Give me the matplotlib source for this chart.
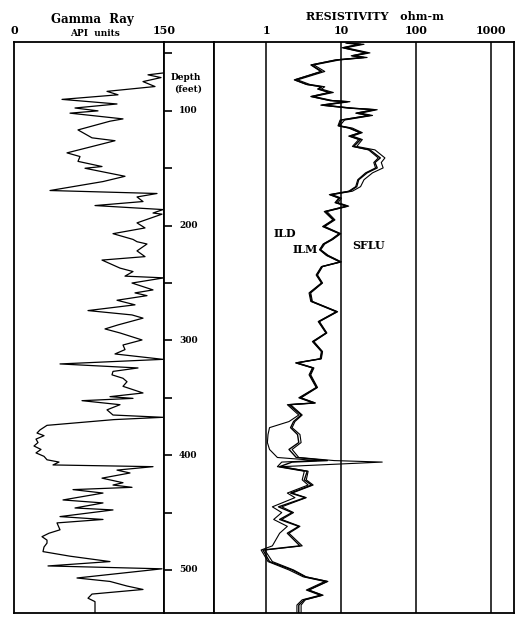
import matplotlib
matplotlib.use("Agg")
import matplotlib.pyplot as plt
import matplotlib.transforms as mtransforms

plt.rcParams["font.family"] = ["DejaVu Serif"]
plt.rcParams["font.weight"] = "bold"

# ---- gamma ray (API units) vs depth (feet) ----
gr_depth = [67, 68.6, 71, 74.5, 78.8, 83, 86, 90, 94, 97.5, 100, 102, 107, 109,
            116.6, 123.5, 126, 136.6, 139.8, 144, 148.5, 150, 157, 161.6, 169.4,
            172, 175, 179, 182.5, 186, 189, 190, 197.6, 202, 207, 212, 214, 216,
            222, 227, 230, 237, 240, 244, 245.5, 250, 256, 258.6, 261, 265, 269,
            274, 277.8, 280.6, 286.5, 290, 293.5, 299.6, 304, 308, 311.8, 316.5,
            320.5, 324, 327, 330, 333, 336, 340, 345.8, 349, 350.5, 352.5, 356,
            360.5, 365, 367, 369, 374, 378, 380.7, 383, 386, 389, 392, 395, 398,
            401, 404, 406, 408.5, 410, 413, 415.5, 420, 424, 426, 428, 430, 433,
            439, 441.6, 446, 447.7, 453.5, 456, 459, 465, 468, 471, 474, 476.6,
            480, 484, 488, 492.7, 496.5, 499, 507, 510, 514, 517, 521, 524.6,
            527.6, 537]
gr_api = [149, 134, 147, 129, 141, 93, 104, 48, 103, 61, 84, 56, 109, 96,
          64, 78, 101, 53, 66, 64, 88, 71, 111, 89, 36,
          143, 123, 129, 81, 149, 139, 148, 123, 131, 99, 119, 123, 133,
          123, 131, 88, 106, 119, 111, 150, 118, 139, 121, 133, 103, 121,
          74, 118, 129, 104, 91, 106, 128, 109, 111, 101, 149,
          46, 124, 99, 98, 109, 113, 109, 129, 96, 119, 68, 106,
          93, 99, 149, 100, 33, 26, 23, 30, 22, 24, 20, 27, 22,
          30, 33, 45, 39, 139, 103, 116, 88, 109, 99, 118, 59, 89,
          49, 89, 61, 99, 46, 89, 43, 46, 35, 28, 33, 33,
          30, 29, 56, 96, 34, 148, 63, 96, 113, 129, 78, 74,
          81, 81]

# ---- resistivity (ohm-m) vs depth (feet) ----
rs_depth = [41, 42, 45, 49.5, 52, 53.5, 55.6, 60, 65.7, 73, 77, 79, 81, 84, 87.5,
            91, 92, 95, 97.6, 99, 102, 104, 108, 113, 115, 119, 122, 125, 131,
            134, 141, 145, 149.7, 154, 160, 166, 170, 173, 176, 180, 183, 187.7,
            195, 200.8, 207, 212, 216, 221, 226, 231.6, 235.7, 243, 250, 258.6,
            266, 275, 283.6, 293.5, 301, 309.7, 316, 319.6, 324, 330, 341, 350,
            354.5, 356, 365, 370.7, 376, 382, 389, 395, 402, 404.7, 406, 410,
            414, 421.5, 426, 433, 437, 445, 450, 456, 462, 468, 479, 482.6,
            492.7, 500, 506, 510, 517.5, 522, 526, 530.6, 537]
ild = [11.5, 17, 10.2, 21, 13.5, 19, 8.3, 3.9, 5.3, 2.35, 3.4, 5.3, 4.8, 6.8, 3.9,
       6.9, 11.5, 5.3, 12.5, 27, 15.5, 23, 9.6, 9.0, 12.5, 17.5, 12.5, 17, 14,
       23, 31, 27, 28.5, 21, 16.5, 15.5, 12.5, 6.9, 9.2, 8.2, 11.6, 5.9,
       7.7, 5.6, 9.3, 7.3, 5.7, 5.1, 6.3, 9.5, 5.4, 4.6, 5.4, 3.7,
       3.9, 8.5, 4.9, 6.2, 4.1, 5.4, 5.2, 2.45, 4.1, 3.7, 4.6, 2.7,
       4.2, 1.9, 2.7, 2.0, 1.1, 1.05, 1.03, 1.1, 1.4, 4.7, 1.6, 1.4,
       3.2, 3.0, 3.6, 1.9, 2.4, 1.2, 1.6, 1.25, 1.9, 1.5, 1.2, 0.85,
       1.05, 2.0, 3.1, 6.0, 3.4, 5.2, 3.0, 2.55, 2.55]
ilm = [12, 18, 10.7, 22, 14, 20, 8.7, 4.0, 5.5, 2.4, 3.5, 5.5, 5.0, 7.1, 4.0,
       7.1, 12, 5.5, 13, 28, 16, 24, 10, 9.2, 13, 18, 13, 18, 14.6,
       24, 33, 28, 30, 22, 17, 16, 13, 7.1, 9.5, 8.5, 12, 6.1,
       7.9, 5.8, 9.5, 7.5, 5.8, 5.2, 6.5, 9.7, 5.5, 4.7, 5.5, 3.8,
       4.0, 8.7, 5.0, 6.3, 4.2, 5.5, 5.3, 2.5, 4.2, 3.8, 4.7, 2.8,
       4.4, 2.0, 2.9, 2.3, 2.1, 2.6, 2.7, 2.0, 2.5, 6.5, 2.2, 1.5,
       3.5, 3.2, 4.0, 2.1, 3.3, 1.45, 2.2, 1.5, 2.7, 1.9, 2.8, 0.9,
       1.1, 2.2, 3.3, 6.4, 3.6, 5.5, 3.2, 2.7, 2.7]
sflu = [13, 20, 11.5, 24, 15, 22, 9.5, 4.3, 6.0, 2.6, 3.8, 6.0, 5.4, 7.8, 4.3,
        7.6, 13, 6.0, 14, 30, 18, 26, 11, 9.5, 14, 19, 14, 19, 16,
        28, 38, 34, 36, 26, 20, 18, 14, 7.5, 10, 9, 12.5, 6.4,
        8.2, 6.0, 9.8, 7.7, 6.0, 5.3, 6.7, 10, 5.6, 4.8, 5.6, 3.9,
        4.1, 8.9, 5.1, 6.4, 4.3, 5.6, 5.4, 2.6, 4.3, 3.9, 4.8, 2.9,
        4.5, 2.1, 3.0, 2.4, 2.2, 2.8, 2.9, 2.2, 2.7, 8, 35, 1.6,
        3.6, 3.4, 4.2, 2.2, 3.4, 1.6, 2.3, 1.6, 2.8, 2.0, 3.0, 0.95,
        1.2, 2.3, 3.4, 6.6, 3.7, 5.7, 3.3, 2.9, 2.9]

depth_ticks = [50, 100, 150, 200, 250, 300, 350, 400, 450, 500]
depth_labels = [100, 200, 300, 400, 500]
res_ticks = [1, 10, 100, 1000]

W, H = 528, 629
fig = plt.figure(figsize=(W / 100, H / 100), dpi=100)

def box(x0, x1, y0=42, y1=613):
    return [x0 / W, 1 - y1 / H, (x1 - x0) / W, (y1 - y0) / H]

def ftext(x, y, s, **kw):
    fig.text(x / W, 1 - y / H, s, ha=kw.pop("ha", "center"), va=kw.pop("va", "center"),
             fontweight="bold", **kw)

ylim = (537.5, 40)
ax_gr = fig.add_axes(box(14, 164))
ax_dp = fig.add_axes(box(164, 214))
ax_rs = fig.add_axes(box(214, 514))

# gamma ray track
ax_gr.plot(gr_api, gr_depth, color="black", lw=0.9)
ax_gr.set_xlim(0, 150)
ax_gr.set_ylim(*ylim)
ax_gr.xaxis.tick_top()
ax_gr.set_xticks([0, 150])
ax_gr.set_xticklabels(["0", "150"], fontsize=8, fontweight="bold")
ax_gr.tick_params(axis="x", length=0, pad=4)
ax_gr.set_yticks([])

# depth track
ax_dp.set_xlim(0, 1)
ax_dp.set_ylim(*ylim)
ax_dp.set_xticks([])
ax_dp.set_yticks(depth_ticks)
ax_dp.set_yticklabels([])
ax_dp.tick_params(axis="y", direction="in", length=6, width=1.2)
tr = mtransforms.blended_transform_factory(ax_dp.transAxes, ax_dp.transData)
for d in depth_labels:
    ax_dp.text(0.3, d, str(d), transform=tr, ha="left", va="center",
               fontsize=6.5, fontweight="bold")
ax_dp.text(0.14, 0.937, "Depth", transform=ax_dp.transAxes, ha="left", va="center",
           fontsize=6.5, fontweight="bold")
ax_dp.text(0.2, 0.918, "(feet)", transform=ax_dp.transAxes, ha="left", va="center",
           fontsize=6.5, fontweight="bold")

# resistivity track
ax_rs.set_xscale("log")
for r in res_ticks:
    ax_rs.axvline(r, color="black", lw=1.1)
ax_rs.plot(ild, rs_depth, color="black", lw=0.8)
ax_rs.plot(ilm, rs_depth, color="black", lw=1.0)
ax_rs.plot(sflu, rs_depth, color="black", lw=0.8)
ax_rs.set_xlim(0.2, 2000)
ax_rs.set_ylim(*ylim)
ax_rs.xaxis.tick_top()
ax_rs.set_xticks(res_ticks)
ax_rs.set_xticklabels([str(r) for r in res_ticks], fontsize=8, fontweight="bold")
ax_rs.minorticks_off()
ax_rs.tick_params(axis="x", length=0, pad=4)
ax_rs.set_yticks([])

for ax in (ax_gr, ax_dp, ax_rs):
    for sp in ax.spines.values():
        sp.set_linewidth(1.3)

# curve names
ax_rs.text(1.26, 207, "ILD", ha="left", va="center", fontsize=8, fontweight="bold")
ax_rs.text(2.25, 221, "ILM", ha="left", va="center", fontsize=8, fontweight="bold")
ax_rs.text(14, 217.5, "SFLU", ha="left", va="center", fontsize=8, fontweight="bold")

# headers
ftext(92, 19, "Gamma  Ray", fontsize=8.5)
ftext(95, 33, "API  units", fontsize=6.5)
ftext(375, 17, "RESISTIVITY   ohm-m", fontsize=8)

fig.savefig("out.png", dpi=100)
